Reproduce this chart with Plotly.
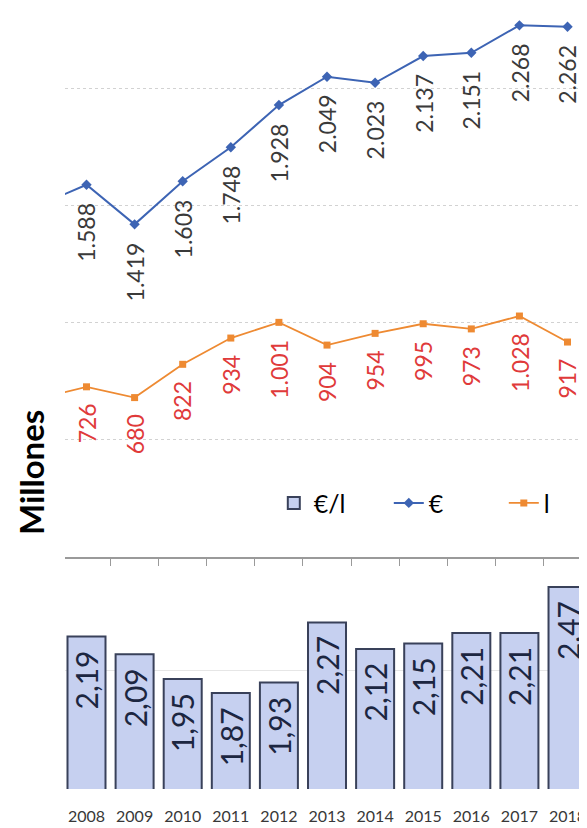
import plotly.graph_objects as go

# Datos
years = [2008, 2009, 2010, 2011, 2012, 2013, 2014, 2015, 2016, 2017, 2018]
line_years = [2007] + years
euros = [1500, 1588, 1419, 1603, 1748, 1928, 2049, 2023, 2137, 2151, 2268, 2262]
litros = [675, 726, 680, 822, 934, 1001, 904, 954, 995, 973, 1028, 917]
precio = [2.19, 2.09, 1.95, 1.87, 1.93, 2.27, 2.12, 2.15, 2.21, 2.21, 2.47]

euro_labels = ["1.588", "1.419", "1.603", "1.748", "1.928", "2.049",
               "2.023", "2.137", "2.151", "2.268", "2.262"]
litro_labels = ["726", "680", "822", "934", "1.001", "904",
                "954", "995", "973", "1.028", "917"]
precio_labels = ["2,19", "2,09", "1,95", "1,87", "1,93", "2,27",
                 "2,12", "2,15", "2,21", "2,21", "2,47"]
boundaries = [y + 0.5 for y in line_years[:-1]]

COLORS = {
    "blue": "#3d64b4",
    "orange": "#ee8a32",
    "orange_text": "#e03a3a",
    "blue_text": "#3a3a3a",
    "bar": "#c6d0f0",
    "bar_line": "#39415a",
    "bar_text": "#1c2641",
    "grid": "#d2d2d2",
    "axis": "#9a9a9a",
}
FONT = "Lato"

fig = go.Figure()

fig.add_trace(
    go.Bar(
        x=years,
        y=precio,
        name="€/l",
        width=0.79,
        marker=dict(color=COLORS["bar"], line=dict(color=COLORS["bar_line"], width=2)),
        xaxis="x2",
        yaxis="y2",
    )
)
fig.add_trace(
    go.Scatter(
        x=line_years,
        y=euros,
        mode="lines+markers",
        name="€",
        line=dict(color=COLORS["blue"], width=2),
        marker=dict(symbol="diamond", size=8, color=COLORS["blue"]),
    )
)
fig.add_trace(
    go.Scatter(
        x=line_years,
        y=litros,
        mode="lines+markers",
        name="l",
        line=dict(color=COLORS["orange"], width=1.8),
        marker=dict(symbol="square", size=7, color=COLORS["orange"]),
    )
)

annotations = []
for yr, v, t in zip(years, euros[1:], euro_labels):
    annotations.append(dict(
        x=yr, y=v, xref="x", yref="y", text=t, showarrow=False, textangle=-90,
        yanchor="top", yshift=-16, font=dict(family=FONT, size=23, color=COLORS["blue_text"]),
    ))
for yr, v, t in zip(years, litros[1:], litro_labels):
    annotations.append(dict(
        x=yr, y=v, xref="x", yref="y", text=t, showarrow=False, textangle=-90,
        yanchor="top", yshift=-15, font=dict(family=FONT, size=23, color=COLORS["orange_text"]),
    ))
for yr, v, t in zip(years, precio, precio_labels):
    annotations.append(dict(
        x=yr, y=v, xref="x2", yref="y2", text=t, showarrow=False, textangle=-90,
        yanchor="top", yshift=-12, font=dict(family=FONT, size=30, color=COLORS["bar_text"]),
    ))
annotations.append(dict(
    x=-0.065, y=0.4046, xref="paper", yref="paper", text="<b>Millones</b>",
    showarrow=False, textangle=-90, xanchor="center", yanchor="middle",
    font=dict(family=FONT, size=33, color="black"),
))

x_range = [2007.553, 2018.405]

fig.update_layout(
    width=579,
    height=820,
    paper_bgcolor="white",
    plot_bgcolor="white",
    margin=dict(l=57, r=0, t=0, b=39, autoexpand=False),
    font=dict(family=FONT, color="black"),
    showlegend=True,
    legend=dict(
        orientation="h", x=0.40, y=0.366, xanchor="left", yanchor="middle",
        font=dict(family=FONT, size=25, color="black"),
        bgcolor="rgba(0,0,0,0)", entrywidth=70, itemwidth=30,
    ),
    xaxis=dict(
        domain=[0, 1], anchor="y", range=x_range, showgrid=False, zeroline=False,
        showline=True, linecolor=COLORS["axis"], linewidth=1.5,
        ticks="outside", tickvals=boundaries, ticklen=7, tickcolor=COLORS["axis"],
        showticklabels=False, automargin=False,
    ),
    yaxis=dict(
        domain=[0.29706, 1], anchor="x", range=[0, 2342], tickvals=[500, 1000, 1500, 2000],
        showticklabels=False, showgrid=True, gridcolor=COLORS["grid"], griddash="dot",
        zeroline=False, showline=False, automargin=False,
    ),
    xaxis2=dict(
        domain=[0, 1], anchor="y2", matches="x", range=x_range, showgrid=False,
        zeroline=False, showline=False, tickvals=years, ticks="", automargin=False,
        ticklabelstandoff=16, tickfont=dict(family=FONT, size=16, color="#383838"),
    ),
    yaxis2=dict(
        domain=[0, 0.29706], anchor="x2", range=[1.327, 2.64], tickvals=[2.0],
        showticklabels=False, showgrid=True, gridcolor="#e6e6e6",
        zeroline=False, showline=False, automargin=False,
    ),
    annotations=annotations,
)

fig.write_html("out.html")
